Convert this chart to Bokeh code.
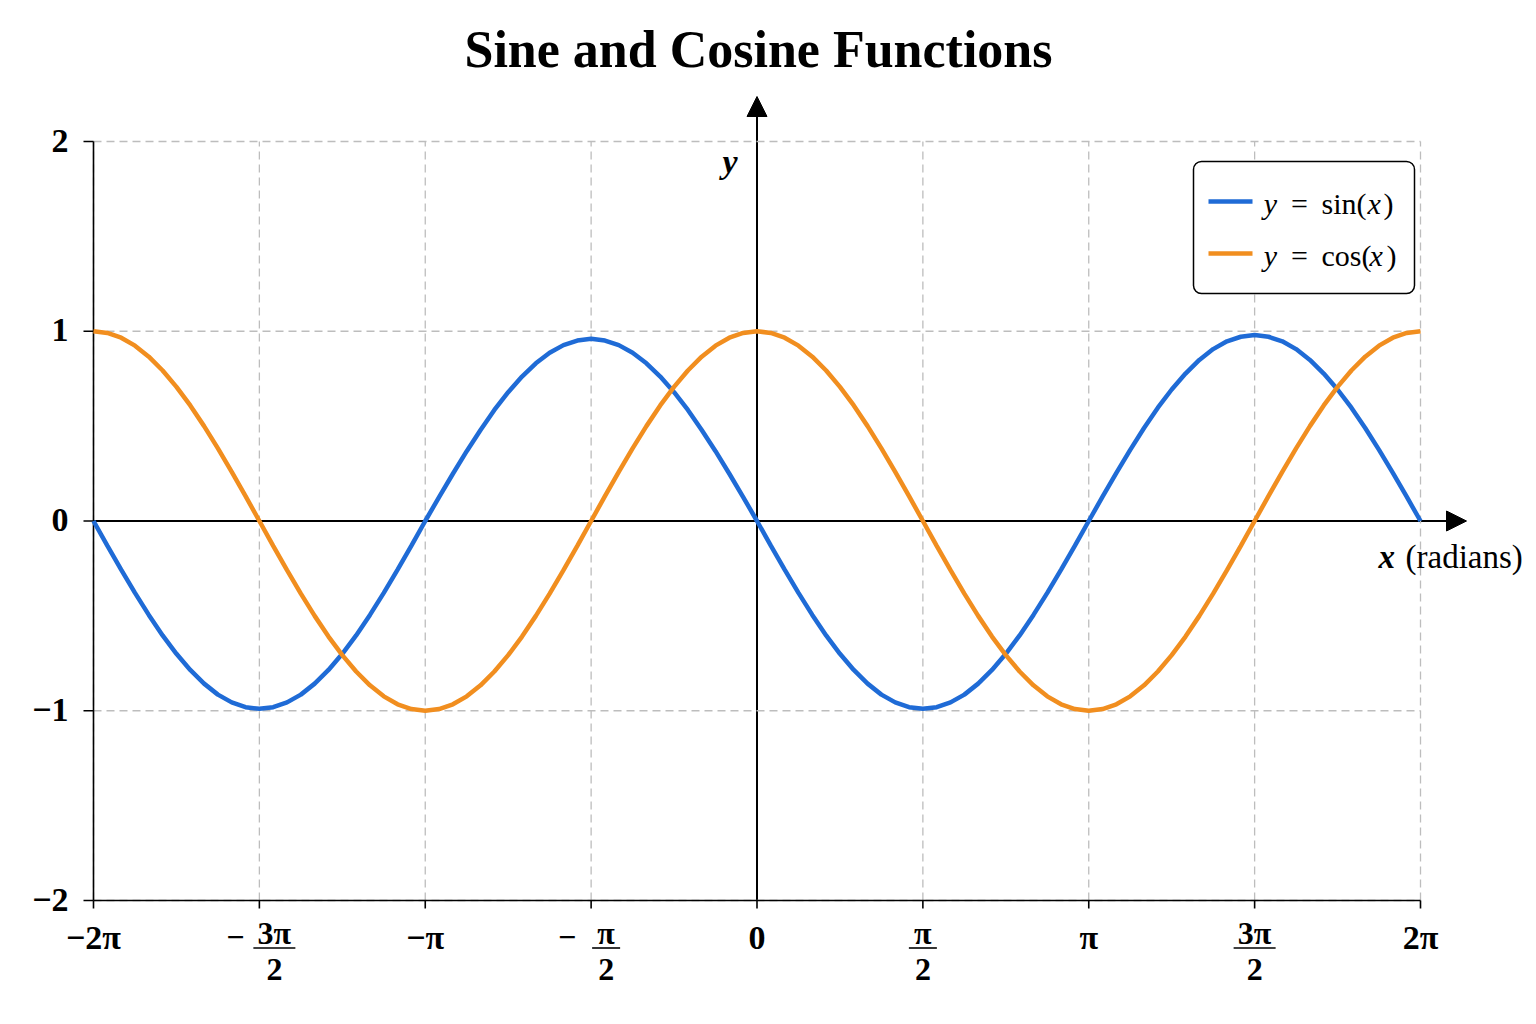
import numpy as np
from bokeh.plotting import figure
from bokeh.models import Range1d, Arrow, NormalHead, Label, BoxAnnotation
from bokeh.embed import file_html
from bokeh.resources import INLINE

# ---- data -------------------------------------------------------------
# sample positions: steps of pi/24 from -2pi to 2pi
x_steps = list(range(-48, 49))

sine_vals = [
    0.000, -0.130, -0.256, -0.379, -0.495, -0.603, -0.700, -0.785, -0.857, -0.915, -0.956, -0.981, -0.990,
    -0.981, -0.956, -0.915, -0.857, -0.785, -0.700, -0.603, -0.495, -0.379, -0.256, -0.130, 0.000,
    0.126, 0.249, 0.368, 0.480, 0.585, 0.679, 0.761, 0.831, 0.887, 0.927, 0.951, 0.960,
    0.951, 0.927, 0.887, 0.831, 0.761, 0.679, 0.585, 0.480, 0.368, 0.249, 0.126, 0.000,
    -0.130, -0.256, -0.379, -0.495, -0.603, -0.700, -0.785, -0.857, -0.915, -0.956, -0.981, -0.990,
    -0.981, -0.956, -0.915, -0.857, -0.785, -0.700, -0.603, -0.495, -0.379, -0.256, -0.130, 0.000,
    0.128, 0.254, 0.375, 0.490, 0.597, 0.693, 0.777, 0.849, 0.906, 0.947, 0.971, 0.980,
    0.971, 0.947, 0.906, 0.849, 0.777, 0.693, 0.597, 0.490, 0.375, 0.254, 0.128, 0.000,
]

cosine_vals = [
    1.000, 0.991, 0.966, 0.924, 0.866, 0.793, 0.707, 0.609, 0.500, 0.383, 0.259, 0.131, 0.000,
    -0.131, -0.259, -0.383, -0.500, -0.609, -0.707, -0.793, -0.866, -0.924, -0.966, -0.991, -1.000,
    -0.991, -0.966, -0.924, -0.866, -0.793, -0.707, -0.609, -0.500, -0.383, -0.259, -0.131, 0.000,
    0.131, 0.259, 0.383, 0.500, 0.609, 0.707, 0.793, 0.866, 0.924, 0.966, 0.991, 1.000,
    0.991, 0.966, 0.924, 0.866, 0.793, 0.707, 0.609, 0.500, 0.383, 0.259, 0.131, 0.000,
    -0.131, -0.259, -0.383, -0.500, -0.609, -0.707, -0.793, -0.866, -0.924, -0.966, -0.991, -1.000,
    -0.991, -0.966, -0.924, -0.866, -0.793, -0.707, -0.609, -0.500, -0.383, -0.259, -0.131, 0.000,
    0.131, 0.259, 0.383, 0.500, 0.609, 0.707, 0.793, 0.866, 0.924, 0.966, 0.991, 1.000,
]

# x ticks at multiples of pi/2
x_tick_halves = [-4, -3, -2, -1, 0, 1, 2, 3, 4]
x_simple_labels = {-4: "−2π", -2: "−π", 0: "0", 2: "π", 4: "2π"}
# fraction-style labels: tick (in halves of pi) -> (sign, numerator, denominator)
x_fraction_labels = {-3: ("−", "3π", "2"), -1: ("−", "π", "2"), 1: ("", "π", "2"), 3: ("", "3π", "2")}

y_ticks = [-2, -1, 0, 1, 2]
y_tick_labels = ["−2", "−1", "0", "1", "2"]

TITLE = "Sine and Cosine Functions"
BLUE = "#1f6bd6"
ORANGE = "#f18e1f"
GRID = "#bdbdbd"
SERIF = "Liberation Serif"

# ---- geometry (canvas pixels of the plotting box) ----------------------
W, H = 1536, 1024
FL, FR, FT, FB = 93, 1420, 141, 900
X0, X1 = -2 * np.pi, 2 * np.pi
Y0, Y1 = -2.0, 2.0
SX = (X1 - X0) / (FR - FL)
SY = (Y1 - Y0) / (FB - FT)
BASE_FIX = 9  # label baseline correction, px


def dx(px):
    return X0 + (px - FL) * SX


def dy(py):
    return Y1 - (py - FT) * SY


xs = [k * np.pi / 24 for k in x_steps]
x_ticks = [h * np.pi / 2 for h in x_tick_halves]
# grid lines everywhere except where the central axes run
x_grid = [t for h, t in zip(x_tick_halves, x_ticks) if h != 0]
y_grid = [t for t in y_ticks if t != 0]

# the frame spans the whole canvas; the box -2pi..2pi x -2..2 sits inside it
p = figure(width=W, height=H, title=None,
           x_range=Range1d(dx(0), dx(W)), y_range=Range1d(dy(H), dy(0)),
           min_border=0, x_axis_location=None, y_axis_location=None,
           toolbar_location=None, output_backend="svg")
p.outline_line_color = None
p.grid.visible = False
p.background_fill_color = "white"
p.border_fill_color = "white"

# dashed grid
p.segment(x0=x_grid, y0=[Y0] * len(x_grid), x1=x_grid, y1=[Y1] * len(x_grid),
          line_color=GRID, line_width=1.3, line_dash="8 5")
p.segment(x0=[X0] * len(y_grid), y0=y_grid, x1=[X1] * len(y_grid), y1=y_grid,
          line_color=GRID, line_width=1.3, line_dash="8 5")

# left and bottom axis lines with outward ticks
p.segment(x0=[X0, X0], y0=[Y0, Y0], x1=[X0, X1], y1=[Y1, Y0], line_color="black", line_width=1.6)
p.segment(x0=x_ticks, y0=[Y0] * len(x_ticks), x1=x_ticks, y1=[dy(FB + 8)] * len(x_ticks),
          line_color="black", line_width=1.6)
p.segment(x0=[X0] * len(y_ticks), y0=y_ticks, x1=[dx(FL - 10)] * len(y_ticks), y1=y_ticks,
          line_color="black", line_width=1.6)

# central axes with arrow heads
for ax_arrow in (
    Arrow(x_start=X0, y_start=0, x_end=dx(1466), y_end=0),
    Arrow(x_start=0, y_start=Y0, x_end=0, y_end=dy(96)),
):
    ax_arrow.end = NormalHead(size=20, fill_color="black", line_color="black", line_width=1)
    ax_arrow.line_color = "black"
    ax_arrow.line_width = 2
    ax_arrow.level = "underlay"
    p.add_layout(ax_arrow)

# curves
p.line(xs, sine_vals, line_color=BLUE, line_width=4.5)
p.line(xs, cosine_vals, line_color=ORANGE, line_width=4.5)


def label(x, py, text, size, style="normal", align="left"):
    p.add_layout(Label(x=x, y=dy(py - BASE_FIX), text=text, text_font=SERIF,
                       text_font_size=size, text_font_style=style,
                       text_align=align, text_baseline="alphabetic", text_color="black"))


def rule(x0, x1, y, color="black", width=1.6):
    p.add_layout(Arrow(x_start=x0, y_start=y, x_end=x1, y_end=y,
                       start=None, end=None, line_color=color, line_width=width))


# title
label(dx(758), 58, TITLE, "52px", "bold", "center")

# y tick labels
for t, lab in zip(y_ticks, y_tick_labels):
    py = FT + (Y1 - t) / SY
    label(dx(68), py + 8, lab, "34px", "bold", "right")

# x tick labels
for h in x_tick_halves:
    t = h * np.pi / 2
    if h in x_simple_labels:
        label(t, 946, x_simple_labels[h], "34px", "bold", "center")
    else:
        sign, num, den = x_fraction_labels[h]
        cx = t + (15 * SX if sign else 0)
        hw = (21 if len(num) > 1 else 14) * SX
        if sign:
            label(t - 24 * SX, 946, sign, "32px", "bold", "center")
        label(cx, 941, num, "32px", "bold", "center")
        rule(cx - hw, cx + hw, dy(947.5))
        label(cx, 978, den, "32px", "bold", "center")

# axis names
label(0 - 27 * SX, 170, "y", "34px", "bold italic", "center")
label(dx(1378), 565, "x", "33px", "bold italic")
label(dx(1405), 565, "(radians)", "33px")

# legend
p.add_layout(BoxAnnotation(left=dx(1193), right=dx(1414), top=dy(161), bottom=dy(293),
                           fill_color="white", fill_alpha=1, line_color="black", line_alpha=1,
                           line_width=1.5, border_radius=8))
rows = [
    (201, BLUE, [("y", 1270, "italic", "center"), ("=", 1299, "normal", "center"),
                 ("sin(", 1321, "normal", "left"), ("x", 1367, "italic", "left"),
                 (")", 1383, "normal", "left")]),
    (253, ORANGE, [("y", 1270, "italic", "center"), ("=", 1299, "normal", "center"),
                   ("cos(", 1321, "normal", "left"), ("x", 1369, "italic", "left"),
                   (")", 1386, "normal", "left")]),
]
for cy, color, parts in rows:
    rule(dx(1208), dx(1252), dy(cy), color=color, width=4.5)
    for txt, px, style, align in parts:
        label(dx(px), cy + 11, txt, "30px", style, align)

open("out.html", "w").write(file_html(p, INLINE))
